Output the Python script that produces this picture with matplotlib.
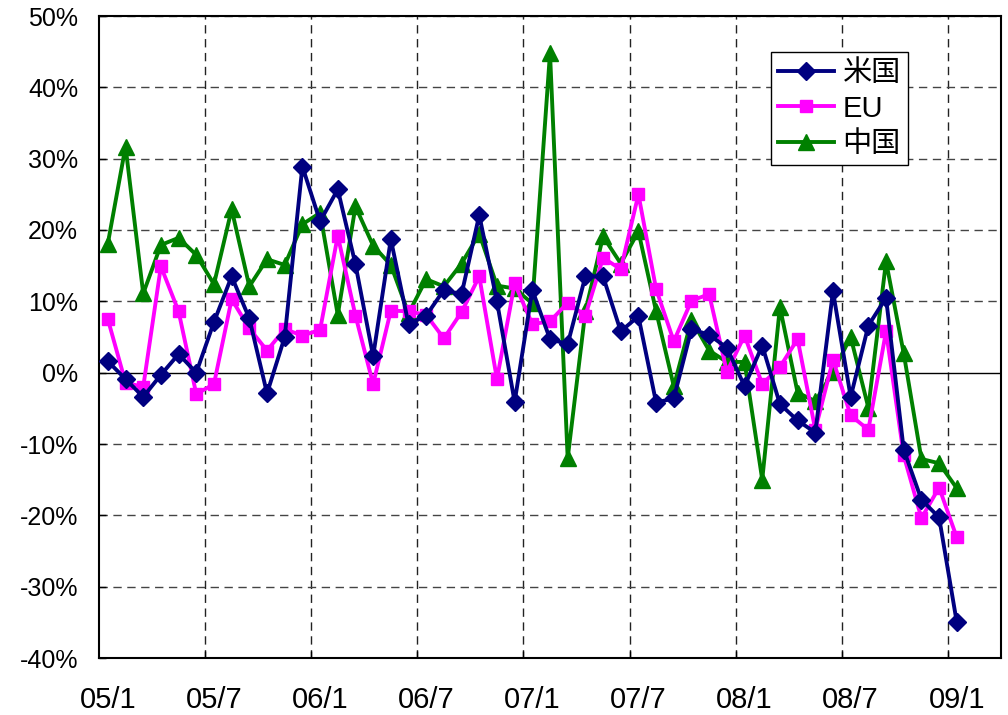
import matplotlib
matplotlib.use("Agg")
import matplotlib.pyplot as plt
import numpy as np

# Monthly data, 2005/1 .. 2009/1 (percent, y/y change)
us = [1.6, -0.9, -3.4, -0.3, 2.6, 0.0, 7.1, 13.5, 7.6, -2.9, 5.0, 28.9,
      21.2, 25.7, 15.2, 2.3, 18.7, 6.8, 8.0, 11.6, 11.0, 22.1, 10.0, -4.1,
      11.6, 4.7, 4.0, 13.5, 13.5, 5.8, 7.9, -4.2, -3.6, 6.1, 5.3, 3.5,
      -1.9, 3.8, -4.4, -6.7, -8.4, 11.4, -3.4, 6.6, 10.5, -10.8, -17.8, -20.3, -35.0]
eu = [7.5, -1.4, -2.0, 14.9, 8.6, -3.0, -1.6, 10.3, 6.2, 3.1, 6.1, 5.2,
      6.0, 19.2, 8.0, -1.6, 8.7, 8.6, 8.1, 4.8, 8.5, 13.5, -0.9, 12.5,
      6.8, 7.2, 9.8, 8.0, 16.1, 14.5, 25.0, 11.7, 4.4, 10.1, 11.0, 0.1,
      5.2, -1.6, 0.8, 4.7, -8.0, 1.8, -6.0, -8.0, 5.8, -11.6, -20.4, -16.1, -23.1]
cn = [18.1, 31.7, 11.1, 17.9, 18.9, 16.5, 12.4, 22.9, 12.1, 15.9, 15.1, 20.8,
      22.4, 8.1, 23.3, 17.8, 15.1, 8.3, 13.1, 12.1, 15.3, 19.5, 12.2, 11.8,
      9.7, 44.8, -12.0, 8.6, 19.1, 15.3, 19.8, 8.6, -1.9, 7.4, 3.1, 1.5,
      1.5, -15.0, 9.2, -2.8, -4.0, 0.1, 5.0, -4.9, 15.6, 2.7, -12.1, -12.7, -16.2]
series_names = ["米国", "EU", "中国"]
tick_labels = ["05/1", "05/7", "06/1", "06/7", "07/1", "07/7", "08/1", "08/7", "09/1"]
y_ticks = list(range(-40, 51, 10))

fig = plt.figure(figsize=(10.08, 7.15), dpi=100)
ax = fig.add_axes([99/1008, 57/715, 902/1008, 642/715])

x = np.arange(len(us)) + 0.5
lw = 2.8
ax.plot(x, us, color="#000080", lw=lw, marker="D", ms=9, label=series_names[0], zorder=5)
ax.plot(x, eu, color="#FF00FF", lw=lw, marker="s", ms=9, label=series_names[1], zorder=4)
ax.plot(x, cn, color="#008000", lw=lw, marker="^", ms=11, label=series_names[2], zorder=3)

ax.set_xlim(0, 51)
ax.set_ylim(-40, 50)

# grid
for gx in range(6, 51, 6):
    ax.axvline(gx, color="#222222", lw=1.0, ls=(0, (6, 4)), zorder=1)
for gy in y_ticks:
    if gy == 0:
        ax.axhline(0, color="black", lw=1.0, zorder=1)
    else:
        ax.axhline(gy, color="#444444", lw=1.0, ls=(0, (6, 4)), zorder=1)

ax.set_yticks(y_ticks)
ax.set_yticklabels([f"{v}%" for v in y_ticks],
                   fontdict={"family": ["Liberation Sans Narrow", "Liberation Sans"], "size": 18})
ax.tick_params(axis="y", direction="in", length=5, width=1, pad=15)

ax.set_xticks(range(6, 49, 6), minor=True)
ax.tick_params(axis="x", which="minor", direction="in", length=5, width=1)
ax.set_xticks(np.arange(0, 49, 6) + 0.5)
ax.set_xticklabels(tick_labels, fontdict={"family": "Liberation Sans", "size": 21})
ax.tick_params(axis="x", which="major", length=0, pad=20)

for s in ax.spines.values():
    s.set_color("black")
    s.set_linewidth(1.5)

leg = ax.legend(loc="upper right", bbox_to_anchor=(0.897, 0.944), borderaxespad=0,
                prop={"family": ["Liberation Sans", "Noto Sans CJK JP"], "size": 21},
                fancybox=False, framealpha=1, edgecolor="black",
                handlelength=1.9, handletextpad=0.3, labelspacing=0.25,
                borderpad=0.25)
leg.get_frame().set_linewidth(1.0)

fig.savefig("out.png", dpi=100)
